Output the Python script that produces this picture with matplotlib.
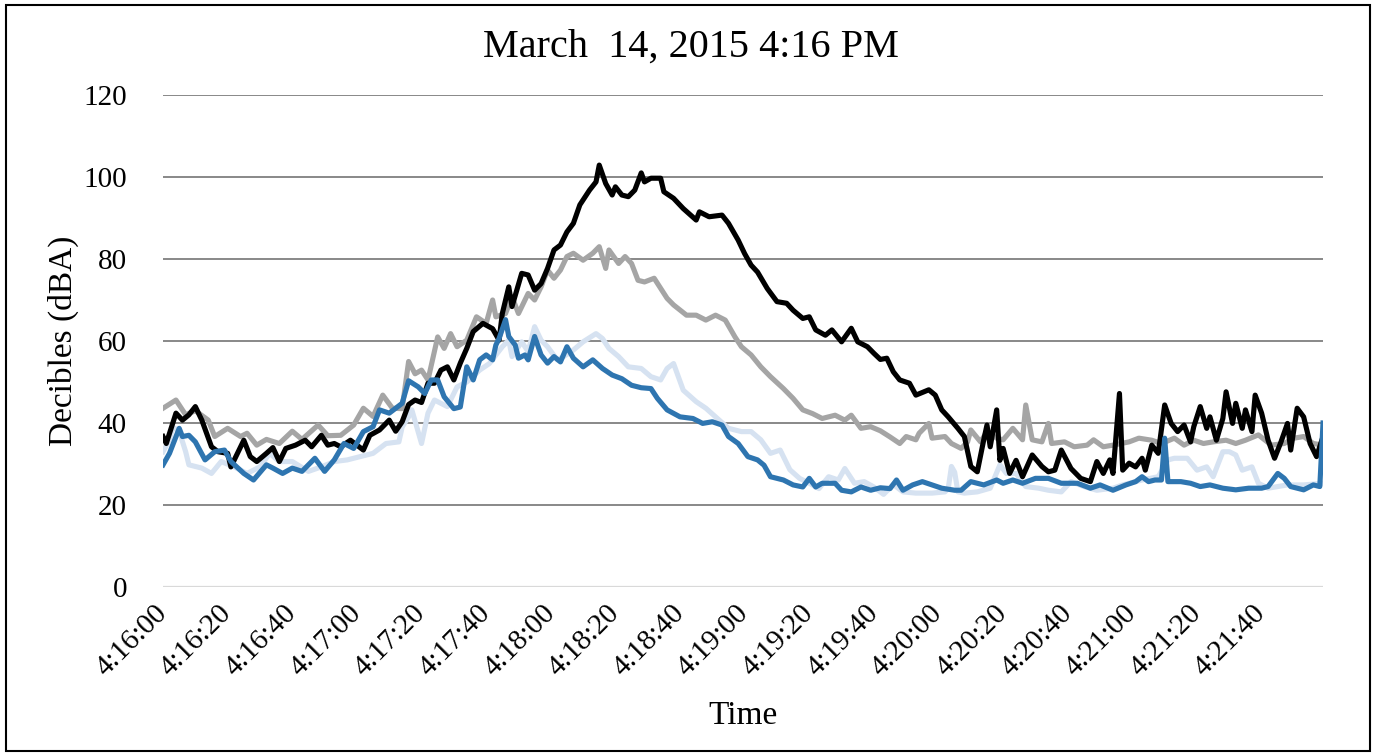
import numpy as np
import matplotlib.pyplot as plt
from matplotlib.patches import Rectangle

plt.rcParams['font.family'] = ['Liberation Serif', 'DejaVu Serif']

# seconds after 4:16:00 and readings (dBA), one pair of lists per meter
black_t = [0, 1, 4, 6, 8, 10, 12, 15, 17, 20, 21, 25, 27, 29, 32, 34, 36, 38, 41, 44,
           46, 49, 51, 53, 55, 58, 60, 62, 64, 67, 70, 72, 74, 76, 78, 80, 82, 84, 86, 88,
           90, 92, 94, 96, 99, 102, 104, 105, 107, 108, 111, 113, 115, 117, 119, 121, 123,
           125, 127, 129, 132, 134, 135, 137, 139, 140, 142, 144, 146, 148, 149, 151, 154,
           155, 158, 161, 165, 166, 169, 173, 175, 178, 180, 182, 184, 187, 190, 193, 195,
           198, 200, 202, 205, 207, 210, 213, 215, 218, 220, 222, 224, 226, 228, 231, 233,
           237, 239, 241, 243, 246, 248, 250, 252, 254, 255, 256, 258, 259, 260, 262, 264,
           266, 269, 272, 274, 276, 278, 281, 284, 287, 289, 291, 293, 294, 296, 297, 299,
           301, 303, 304, 306, 308, 310, 312, 314, 316, 318, 319, 321, 323, 324, 326, 328,
           329, 331, 332, 334, 335, 337, 338, 340, 342, 344, 346, 348, 349, 351, 353, 355,
           357, 359]
black_db = [36.7, 35, 42.4, 40.7, 42, 44, 40.7, 34.2, 33, 32.6, 29.3, 35.8, 31.8, 30.6, 32.6,
            34, 30.6, 33.8, 34.6, 35.8, 34.2, 37, 34.6, 35, 34.2, 35.8, 34.6, 33.4, 37, 38.3,
            40.7, 38, 40.3, 44.5, 45.6, 45, 49.7, 49.7, 52.9, 53.7, 50.5, 54.6, 58.2, 62.3,
            64.3, 63, 60.2, 66.7, 73.2, 68.4, 76.5, 76.1, 72.4, 74, 77.7, 82.2, 83.4, 86.6,
            88.7, 93.2, 96.8, 98.8, 102.9, 98.4, 95.6, 97.6, 95.6, 95.2, 96.8, 101, 98.8,
            99.7, 99.7, 96.4, 94.8, 92.3, 89.5, 91.5, 90.3, 90.7, 88.7, 84.6, 81.3, 78.5,
            76.8, 72.8, 69.6, 69.2, 67.5, 65.5, 65.9, 62.7, 61.4, 62.7, 59.8, 63.1, 59.8,
            58.6, 57, 55.5, 55.8, 52.5, 50.5, 49.7, 46.8, 48.1, 46.8, 43.2, 41.5, 38.7, 36.7,
            29.4, 28.1, 35.9, 39.5, 34.2, 43.2, 30.9, 33.8, 27.7, 30.9, 26.9, 32.2, 29.4,
            28.1, 28.5, 33.4, 28.9, 26.5, 25.7, 30.6, 27.7, 31, 27.7, 47.2, 28.5, 30.2, 29.3,
            31.4, 28.5, 34.6, 32.6, 44.4, 39.9, 37.9, 39.5, 35.4, 39.1, 44, 38.7, 41.5, 35.8,
            41.1, 47.6, 39.9, 44.8, 38.7, 43.2, 37.9, 46.8, 42.4, 35.8, 31.4, 35.4, 39.9,
            33.4, 43.6, 41.5, 35, 31.8, 36.7]

gray_t = [0, 4, 7, 10, 14, 16, 20, 24, 26, 29, 32, 36, 40, 43, 48, 51, 55, 59, 62, 65,
          68, 71, 74, 76, 78, 80, 82, 85, 87, 89, 91, 94, 97, 100, 102, 103, 106, 108, 110,
          113, 115, 117, 119, 121, 123, 125, 127, 130, 133, 135, 137, 138, 141, 143, 145,
          147, 149, 152, 156, 158, 162, 165, 168, 171, 174, 177, 179, 182, 185, 188, 192,
          195, 198, 201, 204, 208, 211, 213, 216, 219, 222, 225, 228, 230, 233, 234, 237,
          238, 242, 244, 247, 249, 250, 253, 255, 258, 260, 263, 266, 267, 269, 272, 274,
          275, 279, 282, 286, 288, 291, 294, 299, 302, 306, 309, 313, 316, 319, 322, 325,
          329, 332, 335, 339, 343, 347, 350, 353, 356, 359]
gray_db = [43.6, 45.6, 42, 43, 40.7, 36.7, 38.7, 36.7, 37.5, 34.6, 36, 35, 38, 36, 39.5,
           36.9, 37, 39.5, 43.6, 41.6, 46.8, 43.6, 43.5, 55, 52, 52.9, 50.5, 61, 58.2, 61.8,
           58.6, 60.2, 65.9, 64.3, 70, 65.9, 66.7, 70.8, 66.7, 71.6, 70, 73.2, 77.3, 75.3,
           77.3, 80.6, 81.4, 79.7, 81.4, 83, 77.7, 82.2, 78.9, 80.6, 78.9, 74.8, 74.4, 75.3,
           70.4, 68.8, 66.3, 66.3, 65.1, 66.3, 65.1, 61, 58.6, 56.6, 53.7, 51.3, 48.4, 46,
           43.2, 42.3, 41.1, 41.9, 40.7, 41.9, 38.7, 39.1, 38.1, 36.6, 35, 36.7, 35.9, 37.5,
           39.9, 36.3, 36.7, 35, 33.8, 35.4, 38.3, 35.4, 37.9, 36.3, 35.9, 38.7, 35.9, 44.4,
           35.9, 35.4, 39.9, 35, 35.4, 34.2, 34.6, 35.9, 34.2, 34.6, 35.4, 36.3, 35.8, 35,
           36.3, 34.6, 35.8, 35, 35.4, 35.8, 35, 35.8, 37.1, 34.6, 35, 36.3, 36.7, 35, 34.6]

light_t = [0, 2, 3, 5, 7, 8, 12, 15, 18, 22, 26, 30, 33, 36, 40, 45, 49, 53, 57, 61, 65,
           69, 73, 74, 76, 77, 80, 82, 84, 88, 91, 94, 98, 101, 105, 107, 108, 111, 113,
           115, 117, 119, 122, 124, 127, 130, 134, 136, 138, 141, 144, 148, 151, 154, 156,
           158, 161, 165, 168, 171, 175, 179, 182, 185, 188, 191, 194, 197, 200, 203, 206,
           209, 211, 214, 217, 220, 223, 226, 229, 233, 238, 242, 243, 244, 245, 246, 248,
           252, 256, 259, 261, 264, 267, 271, 274, 278, 281, 285, 289, 294, 297, 303, 308,
           311, 313, 317, 320, 323, 325, 328, 330, 332, 334, 337, 339, 342, 348, 353, 359]
light_db = [33, 36, 39, 38, 33, 29.8, 29, 27.7, 30.6, 29.3, 27.7, 29.3, 32.6, 30.6, 30.6,
            28.2, 29.3, 30.6, 31, 31.8, 32.6, 35, 35.4, 39, 41.5, 43.2, 35, 42.4, 45.6, 44,
            48.8, 50, 52.9, 54.5, 58.6, 60.2, 56.2, 59.8, 57.4, 63.5, 60.2, 58.6, 55.4, 56.2,
            57.8, 59.8, 61.8, 60.6, 58.2, 56.2, 53.7, 53.3, 51.3, 50.5, 53.3, 54.5, 48, 45.2,
            43.6, 41.5, 38.7, 37.9, 37.9, 35.9, 32.6, 33.4, 28.6, 26.5, 25.3, 24, 26.9, 26.1,
            28.9, 25.3, 25.7, 24.4, 22.6, 25, 23.2, 22.9, 22.9, 23.2, 24, 29.4, 28, 23.2,
            22.9, 23.2, 24.1, 29.8, 27.7, 27.7, 24.5, 24.1, 23.6, 23.2, 25.7, 24.5, 23.6,
            24.1, 24.9, 26.1, 26.9, 31, 31.4, 31.4, 28.5, 29.3, 26.9, 33, 33, 32.2, 28.5,
            29.3, 25.3, 24.1, 24.9, 24.9, 25.3]

blue_t = [0, 2, 5, 6, 8, 10, 13, 16, 19, 21, 25, 28, 32, 34, 37, 40, 43, 47, 50, 53, 56,
          59, 62, 65, 67, 70, 74, 76, 79, 81, 83, 85, 87, 90, 92, 94, 96, 98, 100, 102, 103,
          104, 106, 107, 109, 110, 112, 113, 115, 117, 119, 121, 123, 125, 127, 130, 133,
          136, 139, 142, 145, 148, 151, 153, 156, 160, 164, 167, 170, 173, 175, 178, 181,
          184, 186, 188, 192, 195, 198, 200, 202, 204, 208, 210, 213, 216, 219, 222, 225,
          227, 229, 232, 235, 238, 241, 245, 247, 250, 254, 258, 260, 263, 266, 270, 274,
          278, 283, 287, 290, 294, 298, 301, 303, 305, 307, 309, 310, 311, 315, 318, 321,
          324, 328, 332, 336, 340, 342, 345, 347, 349, 353, 356, 358, 359]
blue_db = [29.8, 32.6, 38.7, 36.7, 37, 35.4, 31, 33, 33.4, 30.6, 27.7, 26.1, 29.8, 29, 27.7,
           29, 28.2, 31.4, 28.2, 31, 35, 33.8, 37.9, 39.1, 43.2, 42.4, 44.8, 50.3, 48.8,
           47.2, 50.5, 50.5, 46.4, 43.5, 43.9, 53.7, 50.5, 55.4, 56.6, 55.4, 59, 60.6, 65.2,
           61.1, 59, 55.8, 56.6, 55.4, 61.1, 56.6, 54.6, 56.2, 54.9, 58.6, 55.8, 53.7, 55.4,
           53.3, 51.7, 50.8, 49.2, 48.6, 48.4, 46, 43.2, 41.5, 41.1, 39.9, 40.3, 39.5, 36.7,
           35, 31.8, 31, 29.7, 26.9, 26.1, 24.9, 24.4, 26.5, 24.4, 25.3, 25.3, 23.6, 23.2,
           24.4, 23.6, 24.2, 24, 26.1, 23.6, 24.9, 25.7, 24.9, 24.1, 23.6, 23.6, 25.7, 24.9,
           26.1, 25.3, 26.1, 25.3, 26.5, 26.5, 25.3, 25.3, 24.1, 24.9, 23.6, 24.9, 25.7,
           26.9, 25.7, 26.1, 26.1, 36.3, 25.7, 25.7, 25.3, 24.5, 24.9, 24.1, 23.7, 24.1, 24.1,
           24.5, 27.7, 26.5, 24.5, 23.7, 24.9, 24.5, 40]

tick_pos = [0, 20, 40, 60, 80, 100, 120, 140, 160, 180, 200, 220, 240, 260, 280, 300, 320, 340]
tick_labels = ['4:16:00', '4:16:20', '4:16:40', '4:17:00', '4:17:20', '4:17:40', '4:18:00',
               '4:18:20', '4:18:40', '4:19:00', '4:19:20', '4:19:40', '4:20:00', '4:20:20',
               '4:20:40', '4:21:00', '4:21:20', '4:21:40']
y_ticks = [0, 20, 40, 60, 80, 100, 120]

fig = plt.figure(figsize=(13.77, 7.55), dpi=100)
ax = fig.add_axes([0.1184, 0.2225, 0.8424, 0.6517])

# gridlines
for v in y_ticks[1:]:
    ax.axhline(v, color='#7f7f7f', lw=1.3, zorder=1)
ax.axhline(0, color='#d9d9d9', lw=1.6, zorder=1)

lw = 3.7
ax.plot(gray_t, gray_db, color='#a5a5a5', lw=lw, zorder=3)
ax.plot(light_t, light_db, color='#d6e2f1', lw=lw, zorder=4)
ax.plot(black_t, black_db, color='black', lw=lw, zorder=5)
ax.plot(blue_t, blue_db, color='#2e75b0', lw=lw, zorder=6)

ax.set_xlim(0, 359)
ax.set_ylim(0, 120)
for s in ax.spines.values():
    s.set_visible(False)

ax.set_yticks(y_ticks)
ax.tick_params(axis='y', length=0, pad=26, labelsize=21)
ax.set_xticks(tick_pos)
ax.set_xticklabels(tick_labels, rotation=45, ha='right', va='center',
                   rotation_mode='anchor', fontsize=21)
ax.tick_params(axis='x', length=0, pad=16)

ax.set_xlabel('Time', fontsize=24, labelpad=14)
ax.set_ylabel('Decibles (dBA)', fontsize=24, labelpad=3)
fig.text(0.502, 0.938, 'March  14, 2015 4:16 PM', ha='center', va='center', fontsize=29)

fig.patches.append(Rectangle((0.004, 0.005), 0.991, 0.988, transform=fig.transFigure,
                             fill=False, edgecolor='black', lw=1.5))

fig.savefig('out.png', dpi=100)
